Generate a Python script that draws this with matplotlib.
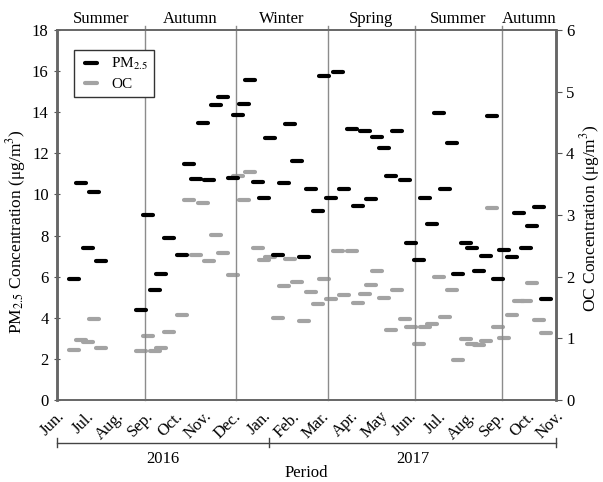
import matplotlib
matplotlib.use("Agg")
import matplotlib.pyplot as plt
import matplotlib.transforms as mtransforms
from matplotlib.lines import Line2D
from matplotlib.markers import MarkerStyle

plt.rcParams['font.family'] = ['Liberation Serif', 'DejaVu Serif']
plt.rcParams['mathtext.fontset'] = 'stix'

# sample positions, in weeks since start of Jun. 2016
weeks = [2.6, 3.6, 4.6, 5.6, 6.6,
         12.6, 13.7, 14.8, 15.7, 16.8, 18.8, 19.9, 20.9, 21.9, 22.9, 23.9, 25.0,
         26.5, 27.2, 28.1, 29.0, 30.2, 31.1, 32.0, 33.2, 34.2, 35.0, 36.1, 37.2,
         38.2, 39.2, 40.2, 41.2, 42.3, 43.2, 44.3, 45.3, 46.3, 47.2, 48.2, 49.2,
         50.2, 51.2, 52.3, 53.3, 54.4, 55.4, 56.4, 57.4, 58.4, 59.4, 60.3, 61.5,
         62.4, 63.4, 64.5, 65.5, 66.3, 67.3, 68.4, 69.5, 70.5, 71.5, 72.5, 73.5]
pm25 = [5.87, 10.57, 7.40, 10.13, 6.78,
        4.39, 8.98, 5.33, 6.12, 7.87, 7.07, 11.50, 10.73, 13.48, 10.68, 14.37, 14.75,
        10.80, 13.85, 14.40, 15.56, 10.60, 9.84, 12.76, 7.04, 10.57, 13.45, 11.63, 6.96,
        10.26, 9.19, 15.76, 9.84, 15.95, 10.28, 13.20, 9.43, 13.09, 9.79, 12.81, 12.24,
        10.89, 13.09, 10.70, 7.62, 6.81, 9.85, 8.54, 13.98, 10.29, 12.50, 6.15, 7.64,
        7.38, 6.26, 7.02, 13.82, 5.90, 7.30, 6.96, 9.11, 7.38, 8.47, 9.40, 4.90]
oc = [0.81, 0.97, 0.94, 1.32, 0.85,
      0.80, 1.03, 0.79, 0.85, 1.11, 1.38, 3.25, 2.35, 3.20, 2.25, 2.67, 2.39,
      2.03, 3.63, 3.24, 3.69, 2.47, 2.27, 2.32, 1.33, 1.85, 2.29, 1.92, 1.28,
      1.75, 1.56, 1.97, 1.63, 2.42, 1.70, 2.41, 1.58, 1.72, 1.86, 2.10, 1.65,
      1.14, 1.78, 1.32, 1.18, 0.91, 1.19, 1.23, 1.99, 1.34, 1.78, 0.65, 0.99,
      0.91, 0.89, 0.96, 3.12, 1.19, 1.00, 1.38, 1.60, 1.60, 1.89, 1.30, 1.08]

months = ["Jun.", "Jul.", "Aug.", "Sep.", "Oct.", "Nov.", "Dec.", "Jan.", "Feb.",
          "Mar.", "Apr.", "May", "Jun.", "Jul.", "Aug.", "Sep.", "Oct.", "Nov."]
seasons = ["Summer", "Autumn", "Winter", "Spring", "Summer", "Autumn"]
season_edges = [0, 13.3, 26.9, 40.8, 53.8, 67.0, 75]
years = ["2016", "2017"]
year_edges = [0, 31.9, 75]

xmax = 75
fig = plt.figure(figsize=(6.03, 4.82), dpi=100)
ax = fig.add_axes([0.0945, 0.1701, 0.827, 0.7676])
ax2 = ax.twinx()

dash = MarkerStyle('_', capstyle='round')
ax2.plot(weeks, oc, ls='none', marker=dash, ms=7.5, mew=3, color='#a3a3a3')
ax.plot(weeks, pm25, ls='none', marker=dash, ms=7.5, mew=3, color='black')
ax.set_zorder(ax2.get_zorder() + 1)
ax.patch.set_visible(False)

for e in season_edges[1:-1]:
    ax.axvline(e, ymin=0, ymax=1.012, color='#8c8c8c', lw=1, clip_on=False, zorder=0)

ax.set_xlim(0, xmax)
ax.set_ylim(0, 18)
ax2.set_ylim(0, 6)
ax.set_yticks(range(0, 19, 2))
ax2.set_yticks(range(0, 7))
mstep = xmax / 17
ax.set_xticks([i * mstep for i in range(18)])
ax.set_xticklabels(months, rotation=45, ha='right', rotation_mode='anchor')
ax.tick_params(axis='x', length=0, pad=6, labelsize=12)
ax.tick_params(axis='y', direction='inout', length=5, labelsize=12, color='#555555')
ax2.tick_params(axis='y', direction='out', length=4, labelsize=12, color='#555555')

for a in (ax, ax2):
    for s in a.spines.values():
        s.set_color('#666666')
        s.set_linewidth(1.2)
    a.spines['left'].set_linewidth(1.8)
    a.spines['right'].set_linewidth(1.8)

ax.set_ylabel('PM$_{2.5}$ Concentration (μg/m$^{3}$)', fontsize=12.5)
ax.yaxis.set_label_coords(-0.058, 0.455)
ax2.set_ylabel('OC Concentration (μg/m$^{3}$)', fontsize=12.5)
ax2.yaxis.set_label_coords(1.044, 0.49)

# season labels on top
for i, name in enumerate(seasons):
    ax.text((season_edges[i] + season_edges[i + 1]) / 2, 1.008, name, ha='center',
            va='bottom', fontsize=12, transform=ax.get_xaxis_transform())

# year bracket under the month labels
tr = mtransforms.blended_transform_factory(ax.transData, ax.transAxes)
yb = -0.116
ax.plot([0, xmax], [yb, yb], color='#444444', lw=1, transform=tr, clip_on=False)
for e in year_edges:
    ax.plot([e, e], [yb - 0.012, yb + 0.012], color='#444444', lw=1,
            transform=tr, clip_on=False)
for i, y in enumerate(years):
    ax.text((year_edges[i] + year_edges[i + 1]) / 2, -0.16, y, ha='center', va='center',
            fontsize=12, transform=tr)
ax.text(0.5, -0.196, 'Period', ha='center', va='center', fontsize=12,
        transform=ax.transAxes)

handles = [Line2D([], [], ls='none', marker=dash, ms=8, mew=3, color='black'),
           Line2D([], [], ls='none', marker=dash, ms=8, mew=3, color='#a3a3a3')]
leg = ax.legend(handles, ['PM$_{2.5}$', 'OC'], loc='upper left',
                bbox_to_anchor=(0.035, 0.946), borderaxespad=0, fancybox=False,
                edgecolor='#333333', fontsize=11, handlelength=1.4, framealpha=1,
                labelspacing=0.35, borderpad=0.4, handletextpad=0.6)
leg.get_frame().set_linewidth(1)

fig.savefig('out.png', dpi=100)
